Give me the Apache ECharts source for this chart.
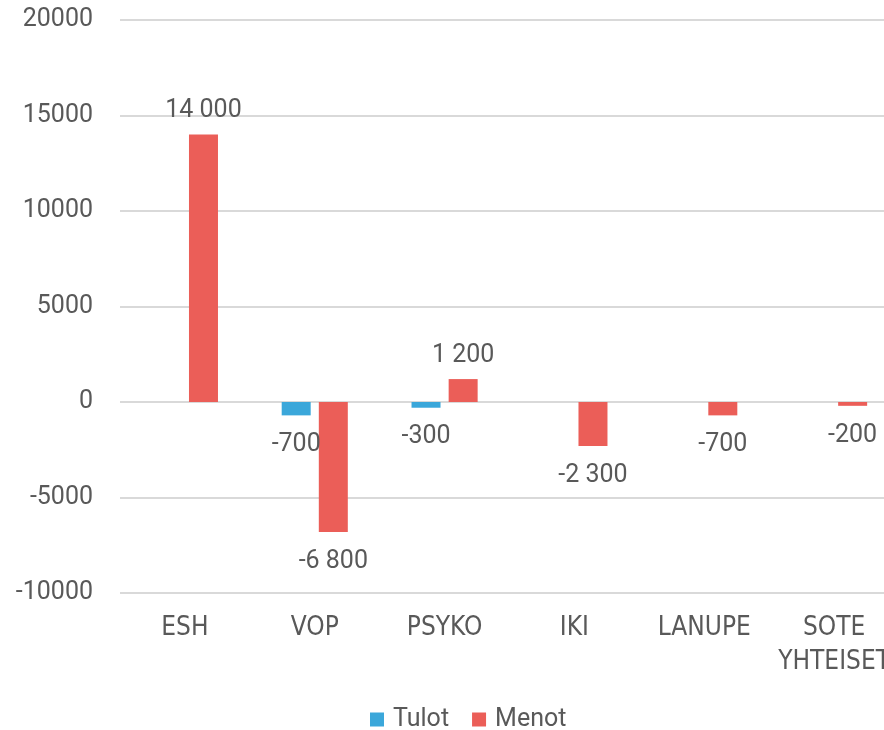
<!DOCTYPE html>
<html><head><meta charset="utf-8">
<script src="https://cdn.jsdelivr.net/npm/echarts@6/dist/echarts.min.js"></script>
<style>html,body{margin:0;padding:0;background:#fff}#c{width:884px;height:730px}</style>
</head><body><div id="c"></div>
<script>
const categories = ['ESH', 'VOP', 'PSYKO', 'IKI', 'LANUPE', 'SOTE\nYHTEISET'];
const tulot = [null, -700, -300, null, null, null];
const menot = [14000, -6800, 1200, -2300, -700, -200];
const yTicks = { min: -10000, max: 20000, interval: 5000 };

const fmt = v => {
  const s = Math.abs(v).toString().replace(/\B(?=(\d{3})+(?!\d))/g, ' ');
  return (v < 0 ? '-' : '') + s;
};
const TXT = '#595959';
const mk = arr => arr.map(v => v == null ? null : {
  value: v,
  label: { position: v >= 0 ? 'top' : 'bottom', distance: v >= 0 ? 11 : 17 }
});
const labelStyle = {
  show: true, color: TXT, fontFamily: 'Roboto', fontSize: 25,
  formatter: p => fmt(p.value)
};

const chart = echarts.init(document.getElementById('c'));
chart.setOption({
  animation: false,
  grid: { left: 120, width: 779, top: 20, bottom: 137, containLabel: false, outerBoundsMode: 'none' },
  legend: {
    data: ['Tulot', 'Menot'], left: 365, top: 702,
    itemWidth: 14, itemHeight: 14, itemGap: 23, icon: 'rect',
    textStyle: { color: TXT, fontFamily: 'Roboto', fontSize: 25, padding: [0, 0, 0, 4] }
  },
  xAxis: {
    type: 'category', data: categories,
    axisLine: { show: false, onZero: false },
    axisTick: { show: false },
    axisLabel: { interval: 0, color: TXT, fontFamily: "'DejaVu Sans Condensed', 'Roboto Condensed', Roboto", fontSize: 26, lineHeight: 34, margin: 18 }
  },
  yAxis: {
    type: 'value', min: yTicks.min, max: yTicks.max, interval: yTicks.interval,
    axisLine: { show: false }, axisTick: { show: false },
    splitLine: { lineStyle: { color: '#D9D9D9', width: 2 } },
    axisLabel: { color: TXT, fontFamily: 'Roboto', fontSize: 25, margin: 27, formatter: v => String(v) }
  },
  series: [
    { name: 'Tulot', type: 'bar', data: mk(tulot), barWidth: 29, barGap: '28%',
      itemStyle: { color: '#3BA7DA' }, label: labelStyle },
    { name: 'Menot', type: 'bar', data: mk(menot), barWidth: 29, barGap: '28%',
      itemStyle: { color: '#EB5E58' }, label: labelStyle }
  ]
});
</script></body></html>
